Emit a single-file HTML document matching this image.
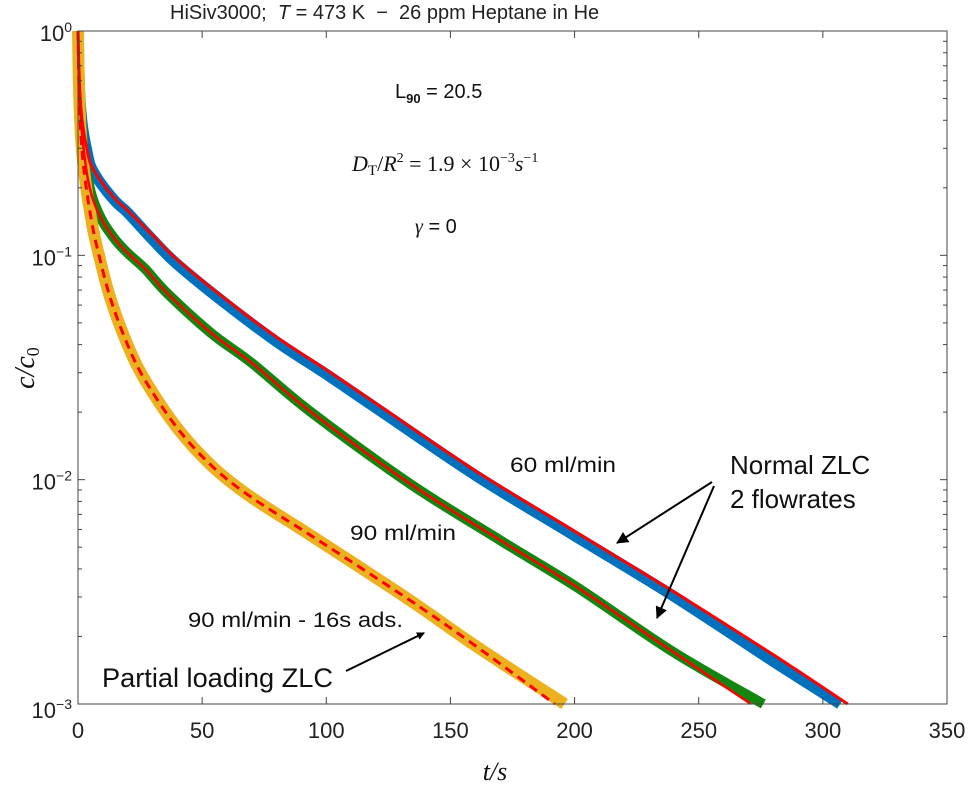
<!DOCTYPE html>
<html><head><meta charset="utf-8">
<style>
html,body{margin:0;padding:0;background:#fff;}
svg{display:block;font-family:"Liberation Sans",sans-serif;}
</style></head>
<body>
<svg id="chart" width="969" height="791" viewBox="0 0 969 791">
<text x="170" y="19" font-size="20" fill="#222" xml:space="preserve">HiSiv3000;  <tspan font-style="italic">T</tspan> = 473 K  −  26 ppm Heptane in He</text>
<g id="plot"></g>
<g id="axes"></g>
<text x="395" y="98" font-size="20" fill="#111">L<tspan font-size="13" font-weight="bold" dy="5">90</tspan><tspan dy="-5"> = 20.5</tspan></text>
<text x="352" y="171" font-size="22" fill="#111" font-family="Liberation Serif,serif"><tspan font-style="italic">D</tspan><tspan font-size="15" dy="4">T</tspan><tspan dy="-4">/</tspan><tspan font-style="italic">R</tspan><tspan font-size="14" dy="-9">2</tspan><tspan dy="9"> = 1.9 × 10</tspan><tspan font-size="14" dy="-9">−3</tspan><tspan dy="9" font-style="italic">s</tspan><tspan font-size="14" dy="-9">−1</tspan></text>
<text x="415" y="233" font-size="20" fill="#111"><tspan font-style="italic" font-family="Liberation Serif,serif">γ</tspan> = 0</text>
<text x="510" y="472" font-size="21" fill="#111" textLength="106" lengthAdjust="spacingAndGlyphs">60 ml/min</text>
<text x="350" y="540" font-size="21" fill="#111" textLength="106" lengthAdjust="spacingAndGlyphs">90 ml/min</text>
<text x="188" y="627" font-size="21" fill="#111" textLength="215" lengthAdjust="spacingAndGlyphs">90 ml/min - 16s ads.</text>
<text x="102" y="687" font-size="27" fill="#111" textLength="231" lengthAdjust="spacingAndGlyphs">Partial loading ZLC</text>
<text x="730" y="474" font-size="26" fill="#111">Normal ZLC</text>
<text x="730" y="508" font-size="26" fill="#111">2 flowrates</text>
<defs><marker id="ah" markerWidth="8" markerHeight="8" refX="7" refY="4" orient="auto" markerUnits="userSpaceOnUse"><path d="M0,0 L8,4 L0,8 Z" fill="#000"/></marker>
<marker id="ah2" markerWidth="12" markerHeight="12" refX="11" refY="6" orient="auto" markerUnits="userSpaceOnUse"><path d="M0,0 L12,6 L0,12 Z" fill="#000"/></marker></defs>
<line x1="712" y1="482" x2="617" y2="543" stroke="#000" stroke-width="2" marker-end="url(#ah2)"/>
<line x1="714" y1="486" x2="657" y2="618" stroke="#000" stroke-width="2" marker-end="url(#ah2)"/>
<line x1="346" y1="671" x2="424" y2="633" stroke="#000" stroke-width="2" marker-end="url(#ah)"/>
<text x="495" y="780" font-size="26" font-style="italic" font-family="Liberation Serif,serif" text-anchor="middle" fill="#111">t/s</text>
<text transform="translate(34,368) rotate(-90)" font-size="28" font-style="italic" font-family="Liberation Serif,serif" text-anchor="middle" fill="#111">c/c<tspan font-size="18" font-style="normal" dy="5">0</tspan></text>
</svg>
<script>
// data (t in seconds, log10(c/c0))
const blueT = [0,0.3,0.7,1.2,2,3.5,5,8,12,16,20,30,40,60,80,100,120,160,200,240,280,307];
const blueLog = [0,-0.15,-0.27,-0.36,-0.44,-0.53,-0.6,-0.66,-0.72,-0.77,-0.81,-0.93,-1.04,-1.22,-1.385,-1.53,-1.68,-1.98,-2.25,-2.52,-2.81,-3.0];
const fit60T = [0,0.3,0.7,1.2,2,3.5,5,8,12,16,20,30,40,60,80,100,120,160,200,240,280,310];
const fit60Log = [0,-0.14,-0.26,-0.35,-0.43,-0.52,-0.59,-0.65,-0.71,-0.76,-0.8,-0.91,-1.02,-1.2,-1.365,-1.51,-1.66,-1.96,-2.23,-2.5,-2.78,-3.0];
const greenT = [0,0.3,0.7,1.2,2,3,4,6,10,15,20,27,36,54,70,94,134,170,201,240,276];
const greenLog = [0,-0.16,-0.3,-0.4,-0.5,-0.59,-0.66,-0.75,-0.85,-0.93,-0.99,-1.06,-1.17,-1.35,-1.48,-1.7,-2.02,-2.27,-2.48,-2.77,-3.0];
const fit90T = [0,0.3,0.7,1.2,2,3,4,6,10,15,20,27,36,54,70,94,134,170,201,240,271];
const fit90Log = [0,-0.16,-0.3,-0.4,-0.5,-0.59,-0.66,-0.75,-0.85,-0.93,-0.99,-1.06,-1.17,-1.35,-1.48,-1.7,-2.02,-2.27,-2.48,-2.77,-3.0];
const yellowT = [0,0.3,0.7,1.2,2,3,4,6,8,13,20,27,40,54,70,94,134,160,196];
const yellowLog = [0,-0.2,-0.35,-0.47,-0.58,-0.67,-0.75,-0.88,-0.98,-1.19,-1.4,-1.556,-1.77,-1.94,-2.08,-2.25,-2.54,-2.74,-3.0];
const fitPartialT = [0,0.3,0.7,1.2,2,3,4,6,8,13,20,27,40,54,70,94,134,160,192];
const fitPartialLog = [0,-0.2,-0.35,-0.47,-0.58,-0.67,-0.75,-0.88,-0.98,-1.19,-1.4,-1.556,-1.77,-1.94,-2.08,-2.25,-2.54,-2.74,-3.0];
const xTicks = [0,50,100,150,200,250,300,350];
const yDecades = [0,-1,-2,-3];

const X0=78,X1=947,Y0=31,Y1=704;
function xs(t){return X0+(t/350)*(X1-X0);}
function ys(l){return Y0+(-l/3)*(Y1-Y0);}
const NS="http://www.w3.org/2000/svg";
const plot=document.getElementById('plot');
const axes=document.getElementById('axes');
function mk(tag,attrs,parent){const e=document.createElementNS(NS,tag);for(const k in attrs)e.setAttribute(k,attrs[k]);parent.appendChild(e);return e;}
function pathD(T,L){
  const p=T.map((t,i)=>[xs(t),ys(L[i])]);
  let d='M'+p[0][0].toFixed(1)+','+p[0][1].toFixed(1);
  for(let i=0;i<p.length-1;i++){
    const p0=p[Math.max(0,i-1)],p1=p[i],p2=p[i+1],p3=p[Math.min(p.length-1,i+2)];
    const c1=[p1[0]+(p2[0]-p0[0])/6,p1[1]+(p2[1]-p0[1])/6];
    const c2=[p2[0]-(p3[0]-p1[0])/6,p2[1]-(p3[1]-p1[1])/6];
    d+=' C'+c1[0].toFixed(1)+','+c1[1].toFixed(1)+' '+c2[0].toFixed(1)+','+c2[1].toFixed(1)+' '+p2[0].toFixed(1)+','+p2[1].toFixed(1);
  }
  return d;
}

let e;
e=mk('path',{d:pathD(blueT,blueLog),fill:'none',stroke:'#0072BD','stroke-width':11,'stroke-linejoin':'round'},plot);


e=mk('path',{d:pathD(greenT,greenLog),fill:'none',stroke:'#13860f','stroke-width':10,'stroke-linejoin':'round'},plot);


e=mk('path',{d:pathD(yellowT,yellowLog),fill:'none',stroke:'#EDB120','stroke-width':12,'stroke-linejoin':'round'},plot);


e=mk('path',{d:pathD(fit60T,fit60Log),fill:'none',stroke:'#ff0000','stroke-width':3},plot);


e=mk('path',{d:pathD(fit90T,fit90Log),fill:'none',stroke:'#ff0000','stroke-width':2.5},plot);


e=mk('path',{d:pathD(fitPartialT,fitPartialLog),fill:'none',stroke:'#ff0000','stroke-width':3,'stroke-dasharray':'9,6'},plot);



e=mk('rect',{x:X0,y:Y0,width:X1-X0,height:Y1-Y0,fill:'none',stroke:'#444','stroke-width':1},axes);


xTicks.forEach(t=>{
  const x=xs(t);
  mk('line',{x1:x,y1:Y1,x2:x,y2:Y1-7,stroke:'#444'},axes);
  mk('line',{x1:x,y1:Y0,x2:x,y2:Y0+7,stroke:'#444'},axes);
  const tx=mk('text',{x:x,y:738,'font-size':22,'text-anchor':'middle',fill:'#222'},axes);
  tx.textContent=t;
  
  
});
yDecades.forEach(d=>{
  const y=ys(d);
  mk('line',{x1:X0,y1:y,x2:X0+7,y2:y,stroke:'#444'},axes);
  mk('line',{x1:X1,y1:y,x2:X1-7,y2:y,stroke:'#444'},axes);
  const tx=mk('text',{x:X0-6,y:y+(d===-3?14:10),'font-size':22,'text-anchor':'end',fill:'#222'},axes);
  tx.innerHTML='10<tspan font-size="14" dy="-9">'+(d===0?'0':'−'+(-d))+'</tspan>';
  
  
  if(d>-3){for(let m=2;m<=9;m++){const ym=ys(d-1+Math.log10(m));
    mk('line',{x1:X0,y1:ym,x2:X0+4,y2:ym,stroke:'#444'},axes);
    mk('line',{x1:X1,y1:ym,x2:X1-4,y2:ym,stroke:'#444'},axes);}}
});
</script>
</body></html>
